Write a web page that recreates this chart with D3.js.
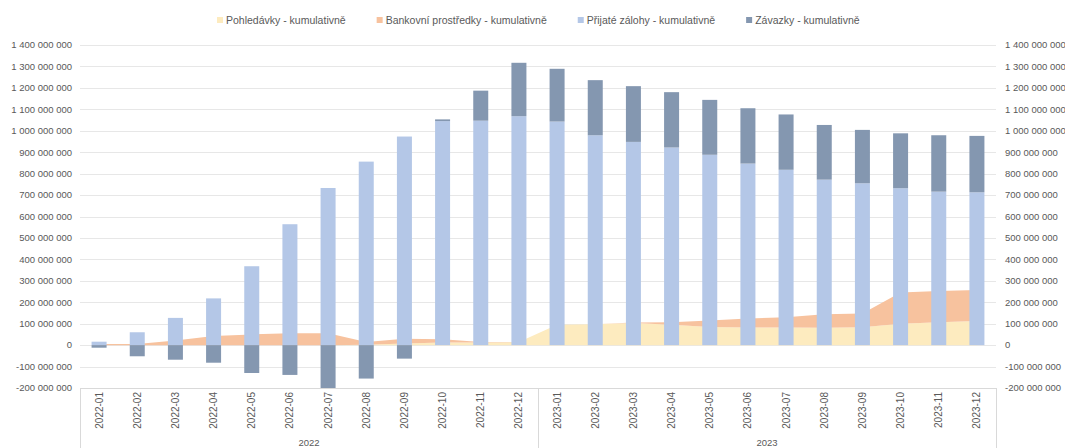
<!DOCTYPE html>
<html>
<head>
<meta charset="utf-8">
<script src="https://cdn.jsdelivr.net/npm/d3@7/dist/d3.min.js"></script>
<style>
  html, body { margin: 0; padding: 0; background: #ffffff; }
  svg { display: block; }
  text { font-family: "Liberation Sans", Arial, sans-serif; fill: #595959; }
</style>
</head>
<body>
<svg id="chart" width="1065" height="448"></svg>
<script>
// ---- data (values in CZK) ----
const months = ["2022-01","2022-02","2022-03","2022-04","2022-05","2022-06","2022-07","2022-08","2022-09","2022-10","2022-11","2022-12",
                "2023-01","2023-02","2023-03","2023-04","2023-05","2023-06","2023-07","2023-08","2023-09","2023-10","2023-11","2023-12"];
const years = ["2022", "2023"];
const seriesNames = ["Pohledávky - kumulativně", "Bankovní prostředky - kumulativně", "Přijaté zálohy - kumulativně", "Závazky - kumulativně"];
const M = 1e6;
const pohledavky = [0,0,0,0,0,0,0,2,8,12,12,14, 95,97,103,95,85,82,82,81,83,100,107,112].map(v => v * M);
const bankovni   = [5,5,22,43,50,55,55,13,22,15,2,0, 0,0,3,12,30,42,48,63,65,145,145,145].map(v => v * M);
const zalohy     = [16,60,127,218,368,564,733,856,973,1045,1047,1068, 1043,979,948,922,888,847,818,772,755,732,716,713].map(v => v * M);
const zavazky    = [-12,-52,-68,-82,-130,-139,-200,-156,-63,8,140,249, 246,257,260,258,256,258,258,255,249,256,263,263].map(v => v * M);
const yTicks = [-200,-100,0,100,200,300,400,500,600,700,800,900,1000,1100,1200,1300,1400].map(v => v * M);
const colors = ["#fdebbf", "#f7c29e", "#b4c7e7", "#8497b0"];

(function () {
// ---- layout ----
const svg = d3.select("#chart");
const pL = 80, pR = 996, pT = 45, pB = 388;
const step = (pR - pL) / months.length;
const x2 = d3.scaleBand().domain(months).range([pL, pR]);
const cx = d => x2(d) + x2.bandwidth() / 2;
const barW = 15;

const y = d3.scaleLinear().domain([-200 * M, 1400 * M]).range([pB, pT]);

const loc = d3.formatLocale({decimal: ",", thousands: " ", grouping: [3], currency: ["", ""], minus: "-"});
const fmt = loc.format(",.0f");

// gridlines
svg.append("g").selectAll("line").data(yTicks).join("line")
  .attr("x1", pL).attr("x2", pR)
  .attr("y1", d => Math.round(y(d)) + 0.5).attr("y2", d => Math.round(y(d)) + 0.5)
  .attr("stroke", d => d === -200 * M ? "#d9d9d9" : "#e7e7e7").attr("stroke-width", 1);

// stacked areas
const rows = months.map((m, i) => ({m, p: pohledavky[i], b: bankovni[i]}));
const stackA = d3.stack().keys(["p", "b"])(rows);
const area = d3.area().x(d => cx(d.data.m)).y0(d => y(d[0])).y1(d => y(d[1]));
svg.append("g").selectAll("path").data(stackA).join("path")
  .attr("d", area).attr("fill", (d, i) => colors[i]);

// stacked bars (positive up, negative down, separately)
const barG = svg.append("g");
months.forEach((m, i) => {
  let pos = 0, neg = 0;
  [zalohy[i], zavazky[i]].forEach((v, k) => {
    let y0, y1;
    if (v >= 0) { y0 = pos; y1 = pos + v; pos = y1; }
    else { y0 = neg; y1 = neg + v; neg = y1; }
    barG.append("rect")
      .attr("x", cx(m) - barW / 2).attr("width", barW)
      .attr("y", Math.min(y(y0), y(y1))).attr("height", Math.abs(y(y1) - y(y0)))
      .attr("fill", colors[2 + k]);
  });
});

// left and right y-axis labels
const yLab = svg.append("g").style("font-size", "9.5px");
yLab.selectAll("text.l").data(yTicks).join("text").attr("class", "l")
  .attr("x", 72).attr("y", d => y(d)).attr("dy", "0.35em").attr("text-anchor", "end").text(d => fmt(d));
yLab.selectAll("text.r").data(yTicks).join("text").attr("class", "r")
  .attr("x", 1005).attr("y", d => y(d)).attr("dy", "0.35em").attr("text-anchor", "start").text(d => fmt(d));

// category axis (two levels)
const xa = svg.append("g");
[pL, pL + 12 * step, pR].forEach(xx => {
  xa.append("line").attr("x1", Math.round(xx) + 0.5).attr("x2", Math.round(xx) + 0.5)
    .attr("y1", pB).attr("y2", 448).attr("stroke", "#d9d9d9");
});
xa.selectAll("text.m").data(months).join("text").attr("class", "m")
  .attr("transform", d => `translate(${cx(d)},${pB + 4}) rotate(-90)`)
  .attr("text-anchor", "end").attr("dy", "0.35em")
  .style("font-size", "10px").text(d => d);
xa.selectAll("text.yr").data(years).join("text").attr("class", "yr")
  .attr("x", (d, i) => pL + (i * 12 + 6) * step).attr("y", 446)
  .attr("text-anchor", "middle").style("font-size", "9.5px").text(d => d);

// legend
const leg = svg.append("g").style("font-size", "10.5px");
let lx = 220;
seriesNames.forEach((name, i) => {
  leg.append("rect").attr("x", lx - 3).attr("y", 17).attr("width", 6).attr("height", 6).attr("fill", colors[i]);
  const t = leg.append("text").attr("x", lx + 6).attr("y", 20).attr("dy", "0.35em").text(name);
  lx = lx + 6 + t.node().getComputedTextLength() + 34;
});
})();
</script>
</body>
</html>
